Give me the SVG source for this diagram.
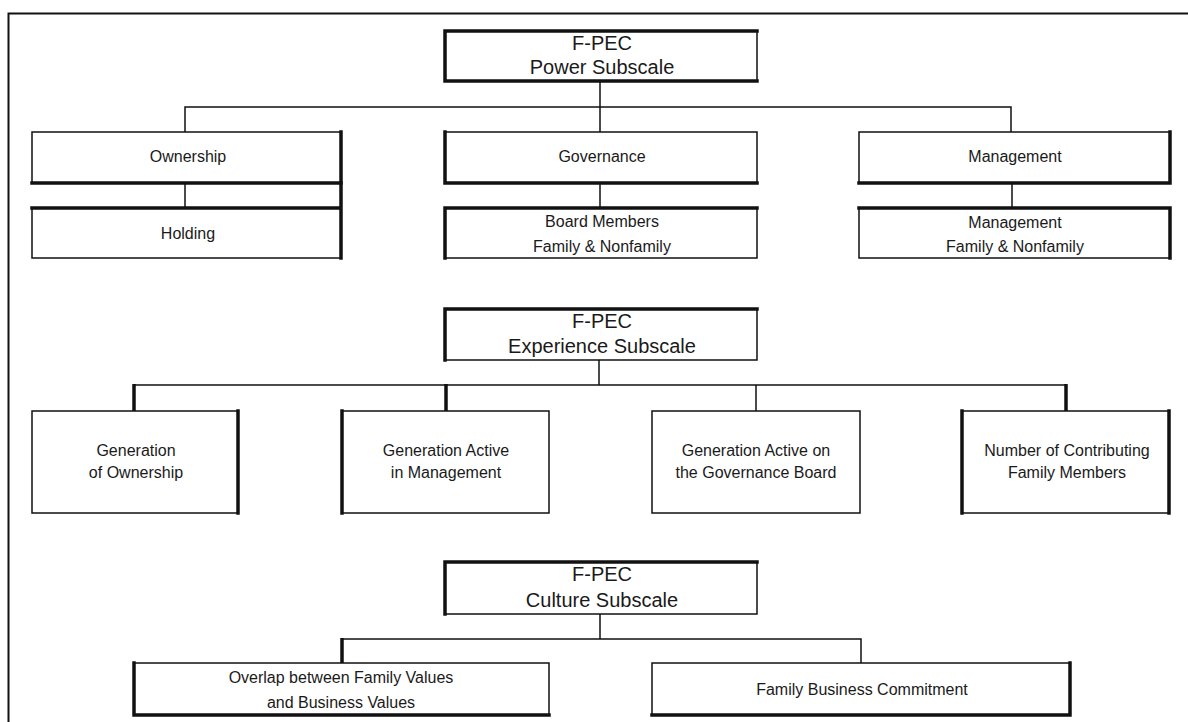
<svg xmlns="http://www.w3.org/2000/svg" width="1188" height="722" viewBox="0 0 1188 722">
<style>
.bx{fill:#fff;stroke:#111;stroke-width:1.5}
.tk{stroke:#111;stroke-width:3.5;fill:none;stroke-linecap:square}
.ln{stroke:#111;stroke-width:1.5;fill:none}
.lt{stroke:#111;stroke-width:3.5;fill:none}
.t{font-family:"Liberation Sans",Arial,sans-serif;font-size:16px;fill:#1a1a1a;text-anchor:middle}
.h{font-family:"Liberation Sans",Arial,sans-serif;font-size:20px;fill:#1a1a1a;text-anchor:middle}
</style>
<rect width="1188" height="722" fill="#fff"/>
<g id="frame">
<path d="M8.5,722 V13.5 H1188" class="ln" style="stroke-width:2"/>
</g>
<g id="connectors">
<path class="ln" d="M600,81 V132 M185,132 V107 H1011 V132 M185,183 V208 M600,183 V208 M1012,183 V208"/>
<path class="ln" d="M599,360 V385 M134,385 H1066 M756,385 V411"/>
<path class="lt" d="M134,384 V411 M446,384 V411 M1066,384 V411"/>
<path class="ln" d="M600,614 V639 M342,639 H861 V663"/>
<path class="lt" d="M342,638 V663"/>
</g>
<g id="power-title">
<rect class="bx" x="445" y="31" width="312" height="50"/>
<path class="tk" d="M445,81 V31 H757 M445,81 H757"/>
<text class="h" x="602" y="50">F-PEC</text>
<text class="h" x="602" y="74">Power Subscale</text>
</g>
<g id="ownership">
<rect class="bx" x="32" y="132" width="309" height="51"/>
<path class="tk" d="M341,132 V183 H32"/>
<text class="t" x="188" y="162">Ownership</text>
</g>
<g id="holding">
<rect class="bx" x="32" y="208" width="309" height="50"/>
<path class="tk" d="M32,208 H341 V258 M341,183 V208"/>
<text class="t" x="188" y="239">Holding</text>
</g>
<g id="governance">
<rect class="bx" x="445" y="132" width="312" height="51"/>
<path class="tk" d="M445,132 V183 H757"/>
<text class="t" x="602" y="162">Governance</text>
</g>
<g id="board-members">
<rect class="bx" x="445" y="208" width="312" height="50"/>
<path class="tk" d="M445,258 V208 H757"/>
<text class="t" x="602" y="227">Board Members</text>
<text class="t" x="602" y="252">Family &amp; Nonfamily</text>
</g>
<g id="management">
<rect class="bx" x="859" y="132" width="311" height="51"/>
<path class="tk" d="M1170,132 V183 H859"/>
<text class="t" x="1015" y="162">Management</text>
</g>
<g id="management-members">
<rect class="bx" x="859" y="208" width="311" height="50"/>
<path class="tk" d="M859,208 H1170 V258"/>
<text class="t" x="1015" y="228">Management</text>
<text class="t" x="1015" y="252">Family &amp; Nonfamily</text>
</g>
<g id="experience-title">
<rect class="bx" x="445" y="309" width="312" height="51"/>
<path class="tk" d="M445,360 V309 H757"/>
<text class="h" x="602" y="328">F-PEC</text>
<text class="h" x="602" y="353">Experience Subscale</text>
</g>
<g id="gen-ownership">
<rect class="bx" x="32" y="411" width="206" height="102"/>
<path class="tk" d="M238,411 V513"/>
<text class="t" x="136" y="456">Generation</text>
<text class="t" x="136" y="478">of Ownership</text>
</g>
<g id="gen-management">
<rect class="bx" x="342" y="411" width="207" height="102"/>
<path class="tk" d="M342,411 V513"/>
<text class="t" x="446" y="456">Generation Active</text>
<text class="t" x="446" y="478">in Management</text>
</g>
<g id="gen-governance">
<rect class="bx" x="652" y="411" width="208" height="102"/>
<text class="t" x="756" y="456">Generation Active on</text>
<text class="t" x="756" y="478">the Governance Board</text>
</g>
<g id="contributing">
<rect class="bx" x="962" y="411" width="207" height="102"/>
<path class="tk" d="M962,411 V513 M1169,411 V513"/>
<text class="t" x="1067" y="456">Number of Contributing</text>
<text class="t" x="1067" y="478">Family Members</text>
</g>
<g id="culture-title">
<rect class="bx" x="445" y="562" width="312" height="52"/>
<path class="tk" d="M445,614 V562 H757"/>
<text class="h" x="602" y="581">F-PEC</text>
<text class="h" x="602" y="607">Culture Subscale</text>
</g>
<g id="overlap">
<rect class="bx" x="134" y="663" width="415" height="52"/>
<path class="tk" d="M134,663 V715 H549"/>
<text class="t" x="341" y="683">Overlap between Family Values</text>
<text class="t" x="341" y="708">and Business Values</text>
</g>
<g id="commitment">
<rect class="bx" x="652" y="663" width="418" height="52"/>
<path class="tk" d="M1070,663 V715 H652"/>
<text class="t" x="862" y="695">Family Business Commitment</text>
</g>
</svg>
